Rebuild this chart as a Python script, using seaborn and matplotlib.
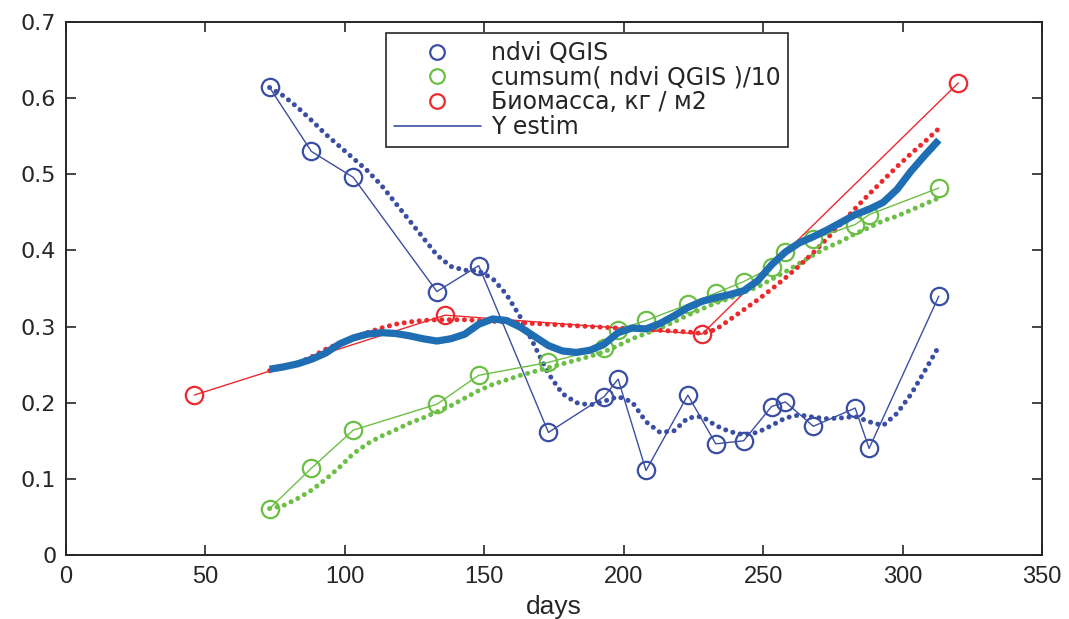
import matplotlib
matplotlib.use("Agg")
import matplotlib.pyplot as plt
import seaborn as sns
import pandas as pd
from matplotlib.lines import Line2D

# ---- data ----
days = [73, 88, 103, 133, 148, 173, 193, 198, 208, 223, 233, 243, 253, 258, 268, 283, 288, 313]
ndvi = [0.614, 0.530, 0.496, 0.346, 0.380, 0.161, 0.208, 0.231, 0.111, 0.210, 0.146,
        0.150, 0.195, 0.201, 0.169, 0.193, 0.140, 0.340]
cumsum10 = [0.061, 0.114, 0.164, 0.198, 0.236, 0.253, 0.272, 0.296, 0.308, 0.329, 0.344,
            0.359, 0.378, 0.398, 0.415, 0.434, 0.447, 0.482]

bio_days = [46, 136, 228, 320]
biomass = [0.210, 0.315, 0.290, 0.620]

# smooth curves
sm_days = [73, 78, 83, 88, 93, 98, 103, 108, 113, 118, 123, 128, 133, 138, 143, 148, 153,
           158, 163, 168, 173, 178, 183, 188, 193, 198, 203, 208, 213, 218, 223, 228, 233,
           238, 243, 248, 253, 258, 263, 268, 273, 278, 283, 288, 293, 298, 303, 308, 313]
ndvi_smooth = [0.614, 0.603, 0.588, 0.571, 0.553, 0.537, 0.521, 0.505, 0.486, 0.463, 0.440,
               0.417, 0.394, 0.379, 0.374, 0.373, 0.363, 0.342, 0.312, 0.275, 0.238, 0.212,
               0.200, 0.197, 0.202, 0.208, 0.201, 0.175, 0.161, 0.163, 0.180, 0.182, 0.170,
               0.162, 0.158, 0.161, 0.170, 0.180, 0.184, 0.181, 0.179, 0.180, 0.182, 0.175,
               0.170, 0.186, 0.211, 0.242, 0.274]
cumsum_smooth = [0.061, 0.065, 0.074, 0.085, 0.099, 0.115, 0.133, 0.146, 0.156, 0.164, 0.173,
                 0.180, 0.188, 0.196, 0.206, 0.216, 0.224, 0.230, 0.236, 0.241, 0.246, 0.251,
                 0.256, 0.261, 0.267, 0.275, 0.284, 0.291, 0.298, 0.306, 0.315, 0.323, 0.331,
                 0.337, 0.345, 0.352, 0.362, 0.372, 0.383, 0.394, 0.404, 0.412, 0.422, 0.430,
                 0.439, 0.445, 0.453, 0.461, 0.469]
bio_smooth = [0.242, 0.247, 0.252, 0.260, 0.270, 0.278, 0.285, 0.292, 0.298, 0.303, 0.306,
              0.308, 0.309, 0.309, 0.309, 0.308, 0.307, 0.306, 0.305, 0.304, 0.303, 0.302,
              0.301, 0.300, 0.299, 0.298, 0.297, 0.296, 0.295, 0.294, 0.293, 0.291, 0.296,
              0.309, 0.322, 0.335, 0.349, 0.364, 0.380, 0.397, 0.416, 0.435, 0.455, 0.474,
              0.492, 0.510, 0.527, 0.543, 0.560]
y_estim = [0.244, 0.247, 0.251, 0.257, 0.265, 0.277, 0.285, 0.290, 0.292, 0.291, 0.288,
           0.284, 0.281, 0.284, 0.290, 0.303, 0.310, 0.308, 0.299, 0.287, 0.275, 0.268,
           0.266, 0.269, 0.277, 0.292, 0.298, 0.297, 0.304, 0.314, 0.325, 0.333, 0.338,
           0.342, 0.347, 0.360, 0.381, 0.398, 0.410, 0.418, 0.427, 0.437, 0.447, 0.454,
           0.463, 0.480, 0.504, 0.525, 0.545]

x_ticks = [0, 50, 100, 150, 200, 250, 300, 350]
y_ticks = [0, 0.1, 0.2, 0.3, 0.4, 0.5, 0.6, 0.7]
y_tick_labels = ["0", "0.1", "0.2", "0.3", "0.4", "0.5", "0.6", "0.7"]

labels = ["ndvi QGIS", "cumsum( ndvi QGIS )/10", "Биомасса, кг / м2", "Y estim"]

BLUE = "#3a4ea3"
GREEN = "#6cbf45"
RED = "#ec2a2e"
THICK = "#1f6eb3"
INK = "#262626"

sns.set_theme(style="ticks")
plt.rcParams["font.family"] = ["DejaVu Sans"]

fig = plt.figure(figsize=(10.69, 6.19), dpi=100)
ax = fig.add_axes([66 / 1069, 1 - 555 / 619, (1042 - 66) / 1069, (555 - 22) / 619])

df_n = pd.DataFrame({"d": days, "v": ndvi, "c": cumsum10})
df_b = pd.DataFrame({"d": bio_days, "v": biomass})
df_s = pd.DataFrame({"d": sm_days, "n": ndvi_smooth, "c": cumsum_smooth,
                     "b": bio_smooth, "y": y_estim})

dot = (0, (0.01, 1.5))
dot_kw = dict(linewidth=3.6, dash_capstyle="round", estimator=None, sort=False)

# dotted smooth curves
sns.lineplot(data=df_s, x="d", y="n", ax=ax, color=BLUE, linestyle=dot, **dot_kw)
sns.lineplot(data=df_s, x="d", y="c", ax=ax, color=GREEN, linestyle=dot, **dot_kw)
sns.lineplot(data=df_s, x="d", y="b", ax=ax, color=RED, linestyle=dot, **dot_kw)

mk = dict(marker="o", markersize=12.5, markerfacecolor="none", markeredgewidth=1.6,
          linewidth=1.0, estimator=None, sort=False)
sns.lineplot(data=df_n, x="d", y="v", ax=ax, color=BLUE, markeredgecolor=BLUE, **mk)
sns.lineplot(data=df_n, x="d", y="c", ax=ax, color=GREEN, markeredgecolor=GREEN, **mk)
sns.lineplot(data=df_b, x="d", y="v", ax=ax, color=RED, markeredgecolor=RED, **mk)

# thick estimate line
sns.lineplot(data=df_s, x="d", y="y", ax=ax, color=THICK, linewidth=5.2,
             solid_capstyle="butt", estimator=None, sort=False)

ax.set_xlim(0, 350)
ax.set_ylim(0, 0.7)
ax.set_xticks(x_ticks)
ax.set_xticklabels([str(t) for t in x_ticks], fontsize=17, family="Liberation Sans")
ax.set_yticks(y_ticks)
ax.set_yticklabels(y_tick_labels, fontsize=16)
ax.set_xlabel("days", fontsize=19, color=INK, labelpad=5, family="Liberation Sans")
ax.set_ylabel("")
ax.tick_params(direction="in", length=7, width=1.2, top=True, right=True, colors=INK)
ax.tick_params(axis="x", pad=8)
ax.tick_params(axis="y", pad=7)
for s in ax.spines.values():
    s.set_visible(True)
    s.set_linewidth(1.4)
    s.set_color(INK)

def circ(c):
    return Line2D([], [], color=c, marker="o", markersize=10.5, markerfacecolor="none",
                  markeredgewidth=1.6, linestyle="none")

handles = [circ(BLUE), circ(GREEN), circ(RED), Line2D([], [], color=BLUE, linewidth=1.2)]
leg = fig.legend(handles, labels, loc="upper left",
                 bbox_to_anchor=(386 / 1069, 1 - 33 / 619), bbox_transform=fig.transFigure,
                 fontsize=17, handlelength=3.7, handletextpad=0.4, labelspacing=0.035,
                 borderpad=0.33, borderaxespad=0, fancybox=False, framealpha=1,
                 edgecolor=INK)
leg.get_frame().set_linewidth(1.2)
for t in leg.get_texts():
    t.set_color(INK)

fig.savefig("out.png", dpi=100)
